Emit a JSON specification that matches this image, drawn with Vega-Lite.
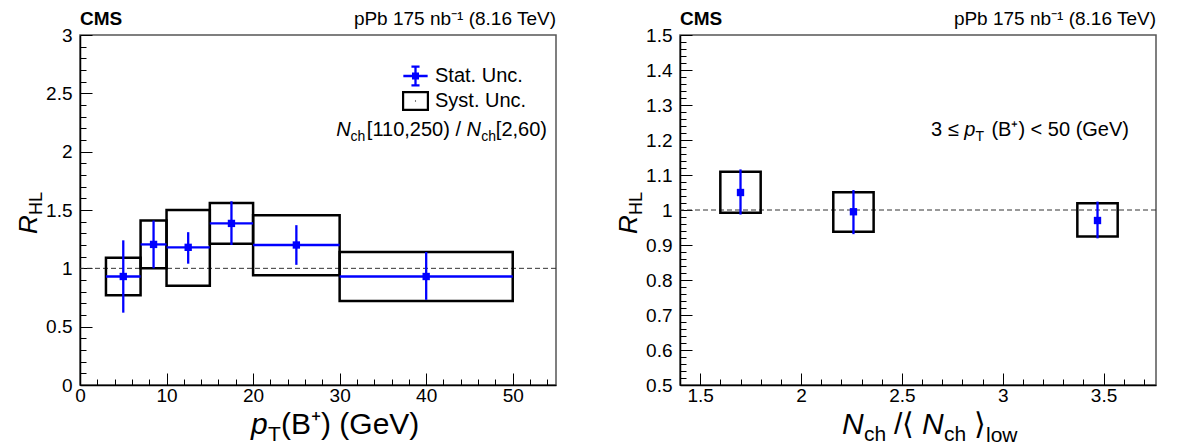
{
  "$schema": "https://vega.github.io/schema/vega-lite/v6.json",
  "background": "white",
  "padding": {"left": 15, "top": 9, "right": 0, "bottom": 0},
  "bounds": "flush",
  "spacing": 124,
  "config": {
    "font": "Liberation Sans",
    "view": {"stroke": "#555555", "strokeWidth": 1.5},
    "axis": {"grid": false, "domainColor": "black", "domainWidth": 1.5, "tickColor": "black", "tickWidth": 1, "labelColor": "black", "labelFont": "Liberation Sans", "labelFontSize": 19, "labelFlush": false, "labelOverlap": false, "tickCount": 500},
    "legend": {"labelFont": "Liberation Sans", "labelFontSize": 20, "labelColor": "black", "labelOffset": 6, "rowPadding": 0, "padding": 0, "symbolSize": 729, "symbolOpacity": 1, "symbolStrokeWidth": 0}
  },
  "datasets": {
    "pt": [
      {"pt": 5, "ptlo": 3, "pthi": 7, "r": 0.93, "statlo": 0.62, "stathi": 1.24, "systlo": 0.77, "systhi": 1.09},
      {"pt": 8.5, "ptlo": 7, "pthi": 10, "r": 1.205, "statlo": 1.0, "stathi": 1.41, "systlo": 1.0, "systhi": 1.41},
      {"pt": 12.5, "ptlo": 10, "pthi": 15, "r": 1.18, "statlo": 1.04, "stathi": 1.31, "systlo": 0.85, "systhi": 1.5},
      {"pt": 17.5, "ptlo": 15, "pthi": 20, "r": 1.385, "statlo": 1.2, "stathi": 1.575, "systlo": 1.21, "systhi": 1.56},
      {"pt": 25, "ptlo": 20, "pthi": 30, "r": 1.2, "statlo": 1.03, "stathi": 1.37, "systlo": 0.94, "systhi": 1.456},
      {"pt": 40, "ptlo": 30, "pthi": 50, "r": 0.93, "statlo": 0.73, "stathi": 1.14, "systlo": 0.72, "systhi": 1.14}
    ],
    "nch": [
      {"n": 1.7, "nlo": 1.6, "nhi": 1.8, "r": 1.05, "statlo": 0.987, "stathi": 1.116, "systlo": 0.992, "systhi": 1.109},
      {"n": 2.26, "nlo": 2.16, "nhi": 2.36, "r": 0.995, "statlo": 0.931, "stathi": 1.057, "systlo": 0.938, "systhi": 1.051},
      {"n": 3.47, "nlo": 3.37, "nhi": 3.57, "r": 0.97, "statlo": 0.919, "stathi": 1.024, "systlo": 0.924, "systhi": 1.019}
    ],
    "series": [
      {"series": "Stat. Unc."},
      {"series": "Syst. Unc."}
    ]
  },
  "hconcat": [
    {
      "width": 476,
      "height": 350,
      "data": {"name": "pt"},
      "layer": [
        {
          "data": {"values": [{}]},
          "mark": {"type": "rule", "strokeDash": [5, 3], "color": "#333333", "strokeWidth": 1},
          "encoding": {"y": {"datum": 1, "type": "quantitative"}}
        },
        {
          "mark": {"type": "rect", "filled": false, "stroke": "black", "strokeWidth": 2.5},
          "encoding": {
            "x": {"field": "ptlo", "type": "quantitative", "scale": {"domain": [0, 55], "nice": false, "zero": false},
              "axis": {"title": null, "tickCount": 500, "labelOverlap": false, "labelSeparation": 0, "values": [0,2,4,6,8,10,12,14,16,18,20,22,24,26,28,30,32,34,36,38,40,42,44,46,48,50,52,54],
                "labelExpr": "datum.value % 10 == 0 ? format(datum.value, '~g') : ''",
                "tickSize": {"condition": {"test": "datum.value % 10 == 0", "value": -12}, "value": -6},
                "labelPadding": 13}},
            "x2": {"field": "pthi"},
            "y": {"field": "systlo", "type": "quantitative", "scale": {"domain": [0, 3], "nice": false, "zero": false},
              "axis": {"title": null, "tickCount": 500, "labelOverlap": false, "labelSeparation": 0, "values": [0,0.1,0.2,0.3,0.4,0.5,0.6,0.7,0.8,0.9,1,1.1,1.2,1.3,1.4,1.5,1.6,1.7,1.8,1.9,2,2.1,2.2,2.3,2.4,2.5,2.6,2.7,2.8,2.9,3],
                "labelExpr": "abs(datum.value*2 - round(datum.value*2)) < 0.001 ? format(datum.value, '~g') : ''",
                "tickSize": {"condition": {"test": "abs(datum.value*2 - round(datum.value*2)) < 0.001", "value": -12}, "value": -6},
                "labelPadding": 20}},
            "y2": {"field": "systhi"}
          }
        },
        {
          "mark": {"type": "rule", "color": "#0000ff", "strokeWidth": 2.3},
          "encoding": {
            "x": {"field": "pt", "type": "quantitative"},
            "y": {"field": "statlo", "type": "quantitative"},
            "y2": {"field": "stathi"}
          }
        },
        {
          "mark": {"type": "rule", "color": "#0000ff", "strokeWidth": 2.3},
          "encoding": {
            "x": {"field": "ptlo", "type": "quantitative"},
            "x2": {"field": "pthi"},
            "y": {"field": "r", "type": "quantitative"}
          }
        },
        {
          "mark": {"type": "square", "color": "#0000ff", "opacity": 1, "size": 54},
          "encoding": {
            "x": {"field": "pt", "type": "quantitative"},
            "y": {"field": "r", "type": "quantitative"}
          }
        },
        {
          "data": {"name": "series"},
          "mark": {"type": "point", "filled": true, "opacity": 0},
          "encoding": {
            "color": {"field": "series", "type": "nominal", "scale": {"domain": ["Stat. Unc.", "Syst. Unc."], "range": ["#0000ff", "black"]},
              "legend": {"title": null, "orient": "none", "legendX": 322, "legendY": 27.5}},
            "shape": {"field": "series", "type": "nominal", "scale": {"domain": ["Stat. Unc.", "Syst. Unc."], "range": [
              "M-0.9,-0.085H0.9V0.085H-0.9Z M-0.085,-0.7H0.085V0.7H-0.085Z M-0.3,-0.785H0.3V-0.615H-0.3Z M-0.3,0.615H0.3V0.785H-0.3Z M-0.26,-0.26H0.26V0.26H-0.26Z",
              "M-1,-0.74H1V0.74H-1Z M-0.837,-0.577V0.577H0.837V-0.577Z M-0.04,-0.04H0.04V0.04H-0.04Z"]},
              "legend": {"title": null, "orient": "none", "legendX": 322, "legendY": 27.5}}
          }
        },
        {
          "data": {"values": [{}]},
          "mark": {"type": "text", "text": "CMS", "fontWeight": "bold", "fontSize": 19, "align": "left", "baseline": "alphabetic", "dy": -10},
          "encoding": {"x": {"datum": 0, "type": "quantitative"}, "y": {"datum": 3, "type": "quantitative"}}
        },
        {
          "data": {"values": [{}]},
          "mark": {"type": "text", "text": "pPb 175 nb⁻¹ (8.16 TeV)", "fontSize": 19, "align": "right", "baseline": "alphabetic", "dy": -10},
          "encoding": {"x": {"datum": 55, "type": "quantitative"}, "y": {"datum": 3, "type": "quantitative"}}
        },
        {
          "data": {"values": [{}]},
          "mark": {"type": "text", "text": "[2,60)", "fontSize": 20, "align": "right", "baseline": "alphabetic", "dx": -9, "dy": 101},
          "encoding": {"x": {"datum": 55, "type": "quantitative"}, "y": {"datum": 3, "type": "quantitative"}}
        },
        {
          "data": {"values": [{}]},
          "mark": {"type": "text", "text": "ch", "fontSize": 14, "align": "right", "baseline": "alphabetic", "dx": -60, "dy": 106},
          "encoding": {"x": {"datum": 55, "type": "quantitative"}, "y": {"datum": 3, "type": "quantitative"}}
        },
        {
          "data": {"values": [{}]},
          "mark": {"type": "text", "text": "N", "fontSize": 20, "fontStyle": "italic", "align": "right", "baseline": "alphabetic", "dx": -75, "dy": 101},
          "encoding": {"x": {"datum": 55, "type": "quantitative"}, "y": {"datum": 3, "type": "quantitative"}}
        },
        {
          "data": {"values": [{}]},
          "mark": {"type": "text", "text": "[110,250) /", "fontSize": 20, "align": "right", "baseline": "alphabetic", "dx": -95, "dy": 101},
          "encoding": {"x": {"datum": 55, "type": "quantitative"}, "y": {"datum": 3, "type": "quantitative"}}
        },
        {
          "data": {"values": [{}]},
          "mark": {"type": "text", "text": "ch", "fontSize": 14, "align": "right", "baseline": "alphabetic", "dx": -190.6, "dy": 106},
          "encoding": {"x": {"datum": 55, "type": "quantitative"}, "y": {"datum": 3, "type": "quantitative"}}
        },
        {
          "data": {"values": [{}]},
          "mark": {"type": "text", "text": "N", "fontSize": 20, "fontStyle": "italic", "align": "right", "baseline": "alphabetic", "dx": -205.4, "dy": 101},
          "encoding": {"x": {"datum": 55, "type": "quantitative"}, "y": {"datum": 3, "type": "quantitative"}}
        },
        {
          "data": {"values": [{}]},
          "mark": {"type": "text", "text": "R", "fontSize": 26, "fontStyle": "italic", "angle": 270, "align": "left", "baseline": "alphabetic", "dx": 151, "dy": -43},
          "encoding": {"x": {"datum": 0, "type": "quantitative"}, "y": {"datum": 0, "type": "quantitative"}}
        },
        {
          "data": {"values": [{}]},
          "mark": {"type": "text", "text": "HL", "fontSize": 18, "angle": 270, "align": "left", "baseline": "alphabetic", "dx": 170, "dy": -38},
          "encoding": {"x": {"datum": 0, "type": "quantitative"}, "y": {"datum": 0, "type": "quantitative"}}
        },
        {
          "data": {"values": [{}]},
          "mark": {"type": "text", "text": "p", "fontSize": 30, "fontStyle": "italic", "align": "left", "baseline": "alphabetic", "dx": 171, "dy": 49},
          "encoding": {"x": {"datum": 0, "type": "quantitative"}, "y": {"datum": 0, "type": "quantitative"}}
        },
        {
          "data": {"values": [{}]},
          "mark": {"type": "text", "text": "T", "fontSize": 21, "align": "left", "baseline": "alphabetic", "dx": 188, "dy": 56},
          "encoding": {"x": {"datum": 0, "type": "quantitative"}, "y": {"datum": 0, "type": "quantitative"}}
        },
        {
          "data": {"values": [{}]},
          "mark": {"type": "text", "text": "(B⁺) (GeV)", "fontSize": 30, "align": "left", "baseline": "alphabetic", "dx": 201, "dy": 49},
          "encoding": {"x": {"datum": 0, "type": "quantitative"}, "y": {"datum": 0, "type": "quantitative"}}
        }
      ]
    },
    {
      "width": 476,
      "height": 350,
      "data": {"name": "nch"},
      "layer": [
        {
          "data": {"values": [{}]},
          "mark": {"type": "rule", "strokeDash": [5, 3], "color": "#333333", "strokeWidth": 1},
          "encoding": {"y": {"datum": 1, "type": "quantitative"}}
        },
        {
          "mark": {"type": "rect", "filled": false, "stroke": "black", "strokeWidth": 2.5},
          "encoding": {
            "x": {"field": "nlo", "type": "quantitative", "scale": {"domain": [1.4, 3.76], "nice": false, "zero": false},
              "axis": {"title": null, "tickCount": 500, "labelOverlap": false, "labelSeparation": 0, "values": [1.4,1.5,1.6,1.7,1.8,1.9,2,2.1,2.2,2.3,2.4,2.5,2.6,2.7,2.8,2.9,3,3.1,3.2,3.3,3.4,3.5,3.6,3.7],
                "labelExpr": "abs(datum.value*2 - round(datum.value*2)) < 0.001 ? format(datum.value, '~g') : ''",
                "tickSize": {"condition": {"test": "abs(datum.value*2 - round(datum.value*2)) < 0.001", "value": -12}, "value": -6},
                "labelPadding": 13}},
            "x2": {"field": "nhi"},
            "y": {"field": "systlo", "type": "quantitative", "scale": {"domain": [0.5, 1.5], "nice": false, "zero": false},
              "axis": {"title": null, "tickCount": 500, "labelOverlap": false, "labelSeparation": 0, "values": [0.5,0.52,0.54,0.56,0.58,0.6,0.62,0.64,0.66,0.68,0.7,0.72,0.74,0.76,0.78,0.8,0.82,0.84,0.86,0.88,0.9,0.92,0.94,0.96,0.98,1,1.02,1.04,1.06,1.08,1.1,1.12,1.14,1.16,1.18,1.2,1.22,1.24,1.26,1.28,1.3,1.32,1.34,1.36,1.38,1.4,1.42,1.44,1.46,1.48,1.5],
                "labelExpr": "abs(datum.value*10 - round(datum.value*10)) < 0.001 ? format(datum.value, '~g') : ''",
                "tickSize": {"condition": {"test": "abs(datum.value*10 - round(datum.value*10)) < 0.001", "value": -12}, "value": -6},
                "labelPadding": 20}},
            "y2": {"field": "systhi"}
          }
        },
        {
          "mark": {"type": "rule", "color": "#0000ff", "strokeWidth": 2.3},
          "encoding": {
            "x": {"field": "n", "type": "quantitative"},
            "y": {"field": "statlo", "type": "quantitative"},
            "y2": {"field": "stathi"}
          }
        },
        {
          "mark": {"type": "square", "color": "#0000ff", "opacity": 1, "size": 54},
          "encoding": {
            "x": {"field": "n", "type": "quantitative"},
            "y": {"field": "r", "type": "quantitative"}
          }
        },
        {
          "data": {"name": "series"},
          "mark": {"type": "point", "filled": true, "opacity": 0},
          "encoding": {
            "color": {"field": "series", "type": "nominal", "scale": {"domain": ["Stat. Unc.", "Syst. Unc."], "range": ["#0000ff", "black"]},
              "legend": {"title": null, "orient": "none", "legendX": 322, "legendY": 27.5}},
            "shape": {"field": "series", "type": "nominal", "scale": {"domain": ["Stat. Unc.", "Syst. Unc."], "range": [
              "M-0.9,-0.085H0.9V0.085H-0.9Z M-0.085,-0.7H0.085V0.7H-0.085Z M-0.3,-0.785H0.3V-0.615H-0.3Z M-0.3,0.615H0.3V0.785H-0.3Z M-0.26,-0.26H0.26V0.26H-0.26Z",
              "M-1,-0.74H1V0.74H-1Z M-0.837,-0.577V0.577H0.837V-0.577Z M-0.04,-0.04H0.04V0.04H-0.04Z"]},
              "legend": {"title": null, "orient": "none", "legendX": 322, "legendY": 27.5}}
          }
        },
        {
          "data": {"values": [{}]},
          "mark": {"type": "text", "text": "CMS", "fontWeight": "bold", "fontSize": 19, "align": "left", "baseline": "alphabetic", "dy": -10},
          "encoding": {"x": {"datum": 1.4, "type": "quantitative"}, "y": {"datum": 1.5, "type": "quantitative"}}
        },
        {
          "data": {"values": [{}]},
          "mark": {"type": "text", "text": "pPb 175 nb⁻¹ (8.16 TeV)", "fontSize": 19, "align": "right", "baseline": "alphabetic", "dy": -10},
          "encoding": {"x": {"datum": 3.76, "type": "quantitative"}, "y": {"datum": 1.5, "type": "quantitative"}}
        },
        {
          "data": {"values": [{}]},
          "mark": {"type": "text", "text": "(B⁺) < 50 (GeV)", "fontSize": 20, "align": "right", "baseline": "alphabetic", "dx": -27, "dy": 101},
          "encoding": {"x": {"datum": 3.76, "type": "quantitative"}, "y": {"datum": 1.5, "type": "quantitative"}}
        },
        {
          "data": {"values": [{}]},
          "mark": {"type": "text", "text": "T", "fontSize": 14, "align": "right", "baseline": "alphabetic", "dx": -172, "dy": 106},
          "encoding": {"x": {"datum": 3.76, "type": "quantitative"}, "y": {"datum": 1.5, "type": "quantitative"}}
        },
        {
          "data": {"values": [{}]},
          "mark": {"type": "text", "text": "p", "fontSize": 20, "fontStyle": "italic", "align": "right", "baseline": "alphabetic", "dx": -180.6, "dy": 101},
          "encoding": {"x": {"datum": 3.76, "type": "quantitative"}, "y": {"datum": 1.5, "type": "quantitative"}}
        },
        {
          "data": {"values": [{}]},
          "mark": {"type": "text", "text": "3 ≤", "fontSize": 20, "align": "right", "baseline": "alphabetic", "dx": -197.3, "dy": 101},
          "encoding": {"x": {"datum": 3.76, "type": "quantitative"}, "y": {"datum": 1.5, "type": "quantitative"}}
        },
        {
          "data": {"values": [{}]},
          "mark": {"type": "text", "text": "R", "fontSize": 26, "fontStyle": "italic", "angle": 270, "align": "left", "baseline": "alphabetic", "dx": 151, "dy": -43},
          "encoding": {"x": {"datum": 1.4, "type": "quantitative"}, "y": {"datum": 0.5, "type": "quantitative"}}
        },
        {
          "data": {"values": [{}]},
          "mark": {"type": "text", "text": "HL", "fontSize": 18, "angle": 270, "align": "left", "baseline": "alphabetic", "dx": 170, "dy": -38},
          "encoding": {"x": {"datum": 1.4, "type": "quantitative"}, "y": {"datum": 0.5, "type": "quantitative"}}
        },
        {
          "data": {"values": [{}]},
          "mark": {"type": "text", "text": "N", "fontSize": 30, "fontStyle": "italic", "align": "left", "baseline": "alphabetic", "dx": 162, "dy": 49},
          "encoding": {"x": {"datum": 1.4, "type": "quantitative"}, "y": {"datum": 0.5, "type": "quantitative"}}
        },
        {
          "data": {"values": [{}]},
          "mark": {"type": "text", "text": "ch", "fontSize": 21, "align": "left", "baseline": "alphabetic", "dx": 184, "dy": 56},
          "encoding": {"x": {"datum": 1.4, "type": "quantitative"}, "y": {"datum": 0.5, "type": "quantitative"}}
        },
        {
          "data": {"values": [{}]},
          "mark": {"type": "text", "text": "/⟨", "fontSize": 30, "align": "left", "baseline": "alphabetic", "dx": 214, "dy": 49},
          "encoding": {"x": {"datum": 1.4, "type": "quantitative"}, "y": {"datum": 0.5, "type": "quantitative"}}
        },
        {
          "data": {"values": [{}]},
          "mark": {"type": "text", "text": "N", "fontSize": 30, "fontStyle": "italic", "align": "left", "baseline": "alphabetic", "dx": 242, "dy": 49},
          "encoding": {"x": {"datum": 1.4, "type": "quantitative"}, "y": {"datum": 0.5, "type": "quantitative"}}
        },
        {
          "data": {"values": [{}]},
          "mark": {"type": "text", "text": "ch", "fontSize": 21, "align": "left", "baseline": "alphabetic", "dx": 264, "dy": 56},
          "encoding": {"x": {"datum": 1.4, "type": "quantitative"}, "y": {"datum": 0.5, "type": "quantitative"}}
        },
        {
          "data": {"values": [{}]},
          "mark": {"type": "text", "text": "⟩", "fontSize": 30, "align": "left", "baseline": "alphabetic", "dx": 294, "dy": 49},
          "encoding": {"x": {"datum": 1.4, "type": "quantitative"}, "y": {"datum": 0.5, "type": "quantitative"}}
        },
        {
          "data": {"values": [{}]},
          "mark": {"type": "text", "text": "low", "fontSize": 21, "align": "left", "baseline": "alphabetic", "dx": 306, "dy": 57},
          "encoding": {"x": {"datum": 1.4, "type": "quantitative"}, "y": {"datum": 0.5, "type": "quantitative"}}
        }
      ]
    }
  ]
}
